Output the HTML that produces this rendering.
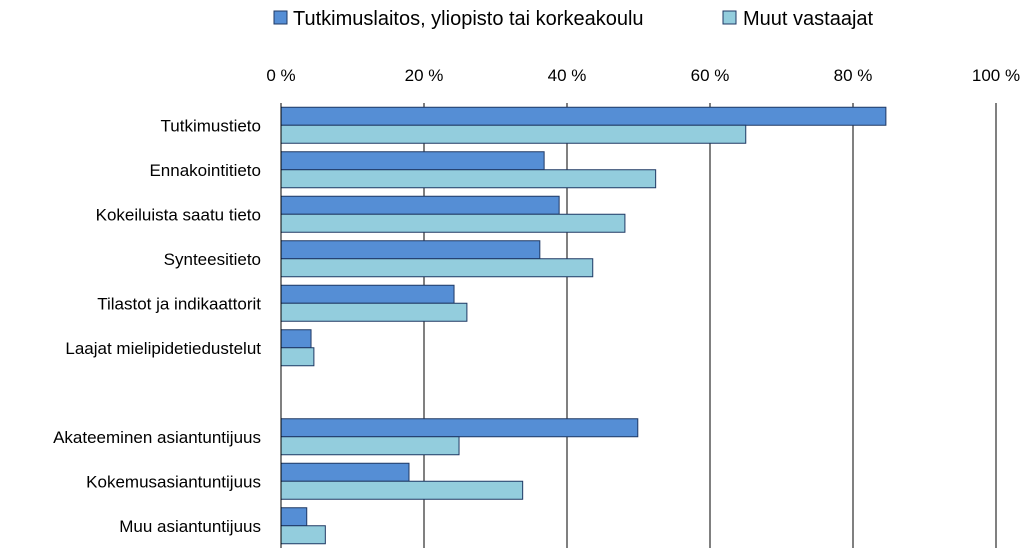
<!DOCTYPE html>
<html><head><meta charset="utf-8"><style>
body{margin:0;background:#fff;}
svg{display:block;font-family:"Liberation Sans",sans-serif;}
</style></head><body>
<svg id="c" width="1024" height="548"></svg>
<script>
const categories=["Tutkimustieto","Ennakointitieto","Kokeiluista saatu tieto","Synteesitieto","Tilastot ja indikaattorit","Laajat mielipidetiedustelut","","Akateeminen asiantuntijuus","Kokemusasiantuntijuus","Muu asiantuntijuus"];
const seriesA=[84.6,36.8,38.9,36.2,24.2,4.2,null,49.9,17.9,3.6];
const seriesB=[65.0,52.4,48.1,43.6,26.0,4.6,null,24.9,33.8,6.2];
const ticks=[0,20,40,60,80,100];
const tickLabels=["0 %","20 %","40 %","60 %","80 %","100 %"];
const ns="http://www.w3.org/2000/svg";
const svg=document.getElementById("c");
const X0=281,X1=996,Y0=103,Y1=548;
const x=v=>X0+(X1-X0)*v/100;
const rowH=(Y1-Y0)/categories.length;
const yc=i=>Y0+rowH*(i+0.5);
function mk(t,a){const e=document.createElementNS(ns,t);for(const k in a)e.setAttribute(k,a[k]);svg.appendChild(e);return e;}
ticks.forEach((t,i)=>{
  const g=mk("line",{x1:x(t),x2:x(t),y1:Y0,y2:Y1,stroke:"#000","stroke-width":1});
  
  
  const tl=mk("text",{x:x(t),y:81,"text-anchor":"middle","font-size":17,fill:"#000"});
  tl.textContent=tickLabels[i];
  
  
});
categories.forEach((c,i)=>{
  if(c){const t=mk("text",{x:261,y:yc(i)+6,"text-anchor":"end","font-size":17,fill:"#000"});
  t.textContent=c;
  
  }
  if(seriesA[i]!=null){
    const a=mk("rect",{x:X0,y:yc(i)-18,width:x(seriesA[i])-X0,height:18,fill:"#558ED5",stroke:"#1F3864","stroke-width":1});
    
    
    const b=mk("rect",{x:X0,y:yc(i),width:x(seriesB[i])-X0,height:18,fill:"#93CDDD",stroke:"#1F3864","stroke-width":1});
    
    
  }
});
const ax=mk("line",{x1:X0,x2:X0,y1:Y0,y2:Y1,stroke:"#000","stroke-width":1});


</script>
<svg style="position:absolute;left:0;top:0" width="1024" height="40">
<rect x="274" y="11" width="13" height="13" fill="#558ED5" stroke="#1F3864"/>
<text x="293" y="25" font-size="20" font-family="Liberation Sans, sans-serif">Tutkimuslaitos, yliopisto tai korkeakoulu</text>
<rect x="723" y="11" width="13" height="13" fill="#93CDDD" stroke="#1F3864"/>
<text x="743" y="25" font-size="20" font-family="Liberation Sans, sans-serif">Muut vastaajat</text>
</svg>
</body></html>
